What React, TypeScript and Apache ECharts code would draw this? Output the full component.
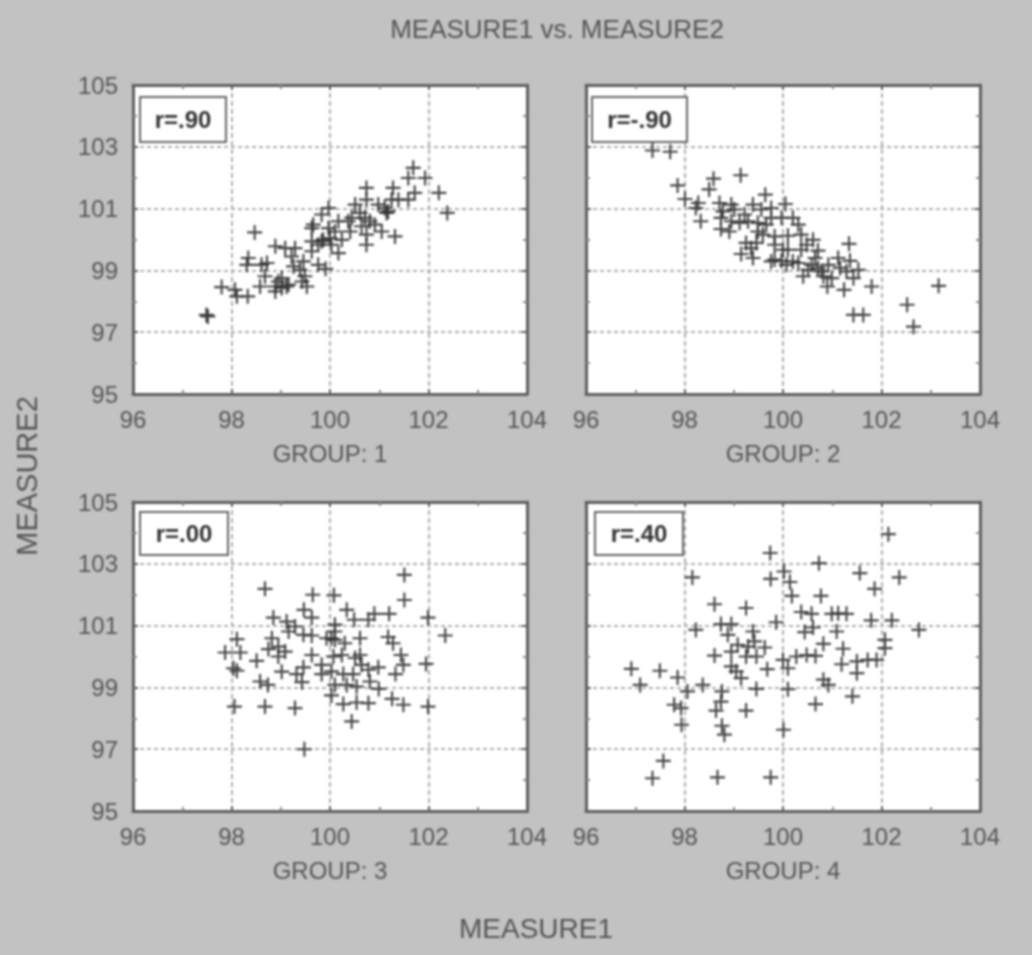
import React, { useEffect, useRef } from "react";
import * as echarts from "echarts";

const chartTitle = "MEASURE1 vs. MEASURE2";
const xName = "MEASURE1";
const yName = "MEASURE2";
const groupNames = ["GROUP: 1", "GROUP: 2", "GROUP: 3", "GROUP: 4"];
const correlationLabels = ["r=.90", "r=-.90", "r=.00", "r=.40"];

const group1: number[][] = [
  [97.49,97.56],[97.52,97.51],[97.80,98.46],[98.07,98.37],[98.11,98.16],[98.33,98.16],[98.47,100.23],[98.31,99.18],[98.34,99.40],[98.58,98.48],
  [98.61,99.18],[98.72,99.24],[98.68,98.81],[98.89,98.32],[98.89,99.78],[98.89,98.48],[99.02,98.75],[99.12,98.48],[99.09,99.72],[99.22,99.45],
  [99.26,99.13],[99.29,99.72],[99.16,98.54],[99.46,99.29],[99.49,98.81],[99.53,98.48],[99.63,99.62],[99.76,99.18],[99.91,99.05],[99.63,99.94],
  [99.66,100.48],[99.83,100.81],[99.97,101.02],[99.86,99.99],[100.03,99.83],[100.17,99.56],[100.24,99.99],[100.10,100.26],[99.97,100.37],[100.17,100.59],
  [100.44,100.70],[100.41,100.26],[100.51,101.13],[100.74,101.67],[100.74,101.29],[100.71,100.70],[100.74,100.16],[100.74,99.83],[101.05,100.26],[101.32,100.10],
  [100.98,101.13],[101.11,101.02],[101.15,100.86],[101.28,101.67],[101.39,101.29],[101.59,101.29],[101.72,101.51],[101.69,102.32],[101.59,101.99],[101.93,101.99],
  [102.21,101.51],[102.38,100.86],[99.63,100.37],[99.76,99.83],[100.0,100.05],[100.61,100.86],[100.81,100.59],[100.91,100.48],[100.37,100.59],[100.64,100.43],
  [101.25,101.29],[101.18,100.91],[99.83,99.94],[99.39,99.02],[99.02,98.43],[99.43,98.64],[98.95,98.64],
];
const group2: number[][] = [
  [97.35,102.88],[97.71,102.84],[97.86,101.75],[98.59,101.97],[99.14,102.08],[98.50,101.62],[98.01,101.31],[98.28,101.18],[98.23,101.02],[98.33,100.59],
  [98.71,101.18],[98.78,100.91],[98.74,100.70],[98.74,100.34],[98.95,101.13],[98.91,100.26],[99.01,100.97],[99.12,100.54],[99.39,101.13],[99.29,100.59],
  [99.25,99.89],[99.15,99.53],[99.39,99.40],[99.35,99.72],[99.64,101.45],[99.56,100.97],[99.76,101.02],[100.05,101.15],[100.20,100.70],[99.97,100.70],
  [99.76,100.70],[100.31,100.48],[99.49,100.54],[99.49,100.26],[99.46,99.89],[99.59,100.16],[99.83,100.10],[100.10,100.12],[100.0,99.67],[99.83,99.35],
  [99.97,99.31],[99.76,99.29],[100.37,100.16],[100.61,99.99],[100.37,99.67],[100.48,99.83],[100.71,99.64],[100.65,99.40],[100.31,99.24],[100.41,98.81],
  [100.51,99.02],[101.12,99.40],[101.34,99.86],[101.36,99.31],[101.16,99.08],[100.92,99.18],[100.71,99.08],[100.82,98.81],[100.99,98.75],[100.90,98.48],
  [101.24,98.37],[101.53,99.02],[101.43,98.75],[101.80,98.48],[101.43,97.56],[101.63,97.56],[102.52,97.89],[102.65,97.18],[103.16,98.50],[100.10,99.67],
  [100.20,99.29],[99.83,99.83],[99.66,100.48],[98.95,100.59],[99.22,100.81],[100.78,98.97],[100.58,99.18],[101.29,98.97],[100.07,99.18],
];
const group3: number[][] = [
  [98.68,102.19],[99.65,102.0],[100.08,101.98],[101.51,102.64],[101.51,101.83],[101.99,101.26],[102.34,100.68],[101.95,99.76],[101.99,98.38],[101.49,98.44],
  [101.26,98.63],[100.78,98.49],[100.54,98.51],[100.27,98.46],[100.44,97.90],[100.03,98.74],[99.48,97.0],[99.29,98.33],[98.68,98.38],[98.06,98.38],
  [98.11,99.54],[98.18,100.13],[97.87,100.13],[98.11,100.56],[98.04,99.62],[98.51,99.86],[98.58,99.19],[98.74,99.08],[99.02,99.51],[98.85,101.26],
  [99.47,101.51],[99.63,101.26],[99.12,101.13],[99.29,100.97],[99.16,100.81],[99.46,100.70],[99.63,100.68],[98.82,100.59],[98.75,100.24],[98.95,100.32],
  [98.95,100.0],[99.09,100.16],[99.63,100.05],[99.46,99.65],[99.32,99.43],[99.43,99.17],[99.83,99.43],[99.83,99.73],[100.03,99.52],[100.07,100.0],
  [100.10,101.03],[100.10,100.81],[99.93,100.59],[100.10,100.54],[100.30,100.43],[100.24,100.05],[100.34,101.51],[100.49,101.19],[100.78,101.19],[100.90,101.38],
  [101.20,101.38],[100.61,100.59],[100.61,100.05],[101.18,100.63],[101.28,100.43],[101.44,100.05],[101.49,99.73],[101.33,99.43],[100.98,99.65],[100.78,99.57],
  [100.47,99.43],[100.27,99.43],[100.10,99.08],[100.34,99.08],[100.54,99.03],[100.81,99.19],[100.99,98.95],[100.64,99.73],[100.51,99.95],[100.03,100.59],
];
const group4: number[][] = [
  [102.14,103.96],[99.74,103.35],[100.73,103.02],[98.16,102.56],[99.75,102.51],[100.02,102.75],[100.14,102.41],[100.18,101.96],[100.77,101.96],[101.56,102.70],
  [102.36,102.56],[101.86,102.19],[98.61,101.69],[99.25,101.57],[100.37,101.44],[100.58,101.38],[100.99,101.38],[101.29,101.38],[101.12,101.40],[101.79,101.17],
  [102.21,101.17],[102.76,100.86],[99.86,101.11],[98.74,101.05],[98.95,101.05],[98.23,100.86],[98.88,100.70],[99.39,100.81],[100.44,100.79],[100.61,100.94],
  [101.09,100.81],[100.82,100.41],[102.07,100.54],[102.07,100.27],[101.22,100.25],[98.61,100.03],[98.95,100.16],[99.08,100.38],[99.29,100.32],[99.42,100.49],
  [99.63,100.29],[99.25,100.0],[99.46,100.0],[98.95,99.68],[99.05,99.52],[99.15,99.30],[99.68,99.59],[99.46,98.95],[100.10,98.94],[100.0,99.89],
  [100.10,99.62],[100.27,100.0],[100.48,100.05],[100.66,100.02],[101.19,99.75],[101.50,99.84],[101.50,99.46],[101.72,99.89],[101.90,99.89],[100.82,99.25],
  [100.92,99.08],[100.66,98.46],[101.41,98.71],[100.01,97.63],[99.25,98.25],[98.76,98.87],[98.74,98.54],[98.64,98.25],[98.76,97.76],[98.81,97.47],
  [98.37,99.08],[98.06,98.87],[97.79,98.44],[97.93,98.33],[97.94,97.79],[97.86,99.32],[97.50,99.54],[96.92,99.60],[97.10,99.08],[97.57,96.62],
  [97.35,96.06],[98.67,96.09],[99.75,96.09],
];
const groups = [group1, group2, group3, group4];

const xMin = 96, xMax = 104, xStep = 2;
const yMin = 95, yMax = 105, yStep = 2;

const panels = [
  { left: 133, top: 85, box: [140, 97, 86, 45], yLabels: true },
  { left: 586, top: 85, box: [592, 97, 95, 45], yLabels: false },
  { left: 133, top: 502, box: [140, 512, 88, 43], yLabels: true },
  { left: 586, top: 502, box: [595, 512, 88, 43], yLabels: false },
];
const panelW = 394;
const panelH = 309;

const plus = "path://M6 0H8V6H14V8H8V14H6V8H0V6H6Z";
const textColor = "#555";
const frame = "#5f5f5f";
const font = "'Liberation Sans', Arial, sans-serif";

export default function App() {
  const ref = useRef<HTMLDivElement>(null);
  useEffect(() => {
    document.body.style.margin = "0";
    document.body.style.background = "#c2c2c2";
    const chart = echarts.init(ref.current!, undefined, { renderer: "svg" });
    const tickStyle = {
      show: true, inside: true, length: 5,
      lineStyle: { color: frame, width: 2 },
    };
    const minorStyle = {
      show: true, splitNumber: 2, length: 4,
      lineStyle: { color: "#8a8a8a", width: 2 },
    };
    const line = { show: true, onZero: false, lineStyle: { color: frame, width: 3 } };
    const grids: any[] = [], xAxes: any[] = [], yAxes: any[] = [], series: any[] = [], graphics: any[] = [];
    panels.forEach((p, i) => {
      grids.push({ left: p.left, top: p.top, width: panelW, height: panelH, backgroundColor: "#fff", show: true, borderWidth: 0 });
      const xi = xAxes.length, yi = yAxes.length;
      xAxes.push({
        type: "value", gridIndex: i, min: xMin, max: xMax, interval: xStep, position: "bottom",
        name: groupNames[i], nameLocation: "middle", nameGap: 47,
        nameTextStyle: { color: textColor, fontSize: 24, fontFamily: font },
        axisLine: line, axisTick: tickStyle, minorTick: minorStyle,
        axisLabel: { color: textColor, fontSize: 24, fontFamily: font, margin: 13, hideOverlap: false },
        splitLine: { show: true, lineStyle: { color: "#b0b0b0", width: 2, type: [5, 3] } },
      });
      xAxes.push({
        type: "value", gridIndex: i, min: xMin, max: xMax, interval: xStep, position: "top",
        axisLine: line, axisTick: tickStyle, minorTick: minorStyle, axisLabel: { show: false }, splitLine: { show: false },
      });
      yAxes.push({
        type: "value", gridIndex: i, min: yMin, max: yMax, interval: yStep, position: "left",
        axisLine: line, axisTick: tickStyle, minorTick: minorStyle,
        axisLabel: { show: p.yLabels, color: textColor, fontSize: 24, fontFamily: font, margin: 15 },
        splitLine: { show: true, lineStyle: { color: "#b0b0b0", width: 2, type: [4, 3] } },
      });
      yAxes.push({
        type: "value", gridIndex: i, min: yMin, max: yMax, interval: yStep, position: "right",
        axisLine: line, axisTick: tickStyle, minorTick: minorStyle, axisLabel: { show: false }, splitLine: { show: false },
      });
      series.push({
        type: "scatter", name: groupNames[i], xAxisIndex: xi, yAxisIndex: yi, data: groups[i],
        symbol: plus, symbolSize: 15, itemStyle: { color: "#333", opacity: 0.9 }, clip: true, z: 5,
      });
      const [bx, by, bw, bh] = p.box;
      graphics.push({
        type: "rect", z: 50, shape: { x: bx, y: by, width: bw, height: bh },
        style: { fill: "#fff", stroke: "#666", lineWidth: 2 },
      });
      graphics.push({
        type: "text", z: 51, x: bx + bw / 2, y: by + bh / 2,
        style: { text: correlationLabels[i], fill: "#333", font: `bold 24px ${font}`, textAlign: "center", textVerticalAlign: "middle" },
      });
    });
    chart.setOption({
      animation: false,
      backgroundColor: "transparent",
      title: {
        text: chartTitle, left: 552, top: 11, textAlign: "center",
        textStyle: { color: textColor, fontSize: 26, fontWeight: "normal", fontFamily: font },
      },
      grid: grids, xAxis: xAxes, yAxis: yAxes, series,
      graphic: [
        ...graphics,
        { type: "text", z: 51, x: 536, y: 928, style: { text: xName, fill: textColor, font: `28px ${font}`, textAlign: "center", textVerticalAlign: "middle" } },
        { type: "text", z: 51, x: 27, y: 476, rotation: Math.PI / 2, style: { text: yName, fill: textColor, font: `29px ${font}`, textAlign: "center", textVerticalAlign: "middle" } },
      ],
    });
    return () => chart.dispose();
  }, []);
  return <div ref={ref} style={{ width: 1032, height: 955, filter: "blur(0.8px)" }} />;
}
